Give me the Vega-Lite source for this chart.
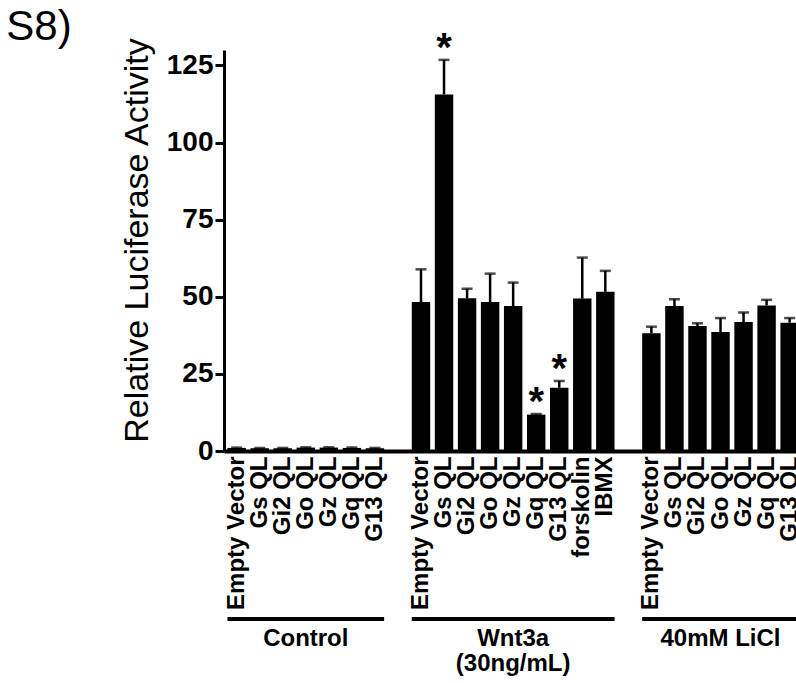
{
  "$schema": "https://vega.github.io/schema/vega-lite/v6.json",
  "padding": {"left": 6, "top": 5, "right": 0, "bottom": 0},
  "background": "white",
  "config": {
    "view": {"stroke": null},
    "font": "Liberation Sans",
    "text": {"font": "Liberation Sans", "color": "black"},
    "axis": {"labelFont": "Liberation Sans", "titleFont": "Liberation Sans", "labelColor": "black", "titleColor": "black"}
  },
  "title": {
    "text": "S8)",
    "anchor": "start",
    "frame": "bounds",
    "font": "Liberation Sans",
    "fontSize": 42,
    "fontWeight": "normal",
    "color": "black",
    "dx": -114,
    "offset": -20
  },
  "datasets": {
    "bars": [
      {"key": "C|Empty Vector", "group": "Control", "construct": "Empty Vector", "mean": 1.0, "upper": 1.1, "sig": ""},
      {"key": "C|Gs QL", "group": "Control", "construct": "Gs QL", "mean": 0.9, "upper": 1.0, "sig": ""},
      {"key": "C|Gi2 QL", "group": "Control", "construct": "Gi2 QL", "mean": 0.9, "upper": 1.0, "sig": ""},
      {"key": "C|Go QL", "group": "Control", "construct": "Go QL", "mean": 1.1, "upper": 1.2, "sig": ""},
      {"key": "C|Gz QL", "group": "Control", "construct": "Gz QL", "mean": 1.1, "upper": 1.2, "sig": ""},
      {"key": "C|Gq QL", "group": "Control", "construct": "Gq QL", "mean": 1.0, "upper": 1.1, "sig": ""},
      {"key": "C|G13 QL", "group": "Control", "construct": "G13 QL", "mean": 0.9, "upper": 1.0, "sig": ""},
      {"key": "W|Empty Vector", "group": "Wnt3a", "construct": "Empty Vector", "mean": 48.3, "upper": 58.9, "sig": ""},
      {"key": "W|Gs QL", "group": "Wnt3a", "construct": "Gs QL", "mean": 115.6, "upper": 126.8, "sig": "*"},
      {"key": "W|Gi2 QL", "group": "Wnt3a", "construct": "Gi2 QL", "mean": 49.5, "upper": 52.6, "sig": ""},
      {"key": "W|Go QL", "group": "Wnt3a", "construct": "Go QL", "mean": 48.3, "upper": 57.5, "sig": ""},
      {"key": "W|Gz QL", "group": "Wnt3a", "construct": "Gz QL", "mean": 47.0, "upper": 54.6, "sig": ""},
      {"key": "W|Gq QL", "group": "Wnt3a", "construct": "Gq QL", "mean": 11.8, "upper": 12.0, "sig": "*"},
      {"key": "W|G13 QL", "group": "Wnt3a", "construct": "G13 QL", "mean": 20.5, "upper": 22.7, "sig": "*"},
      {"key": "W|forskolin", "group": "Wnt3a", "construct": "forskolin", "mean": 49.4, "upper": 62.7, "sig": ""},
      {"key": "W|IBMX", "group": "Wnt3a", "construct": "IBMX", "mean": 51.6, "upper": 58.4, "sig": ""},
      {"key": "L|Empty Vector", "group": "40mM LiCl", "construct": "Empty Vector", "mean": 38.2, "upper": 40.3, "sig": ""},
      {"key": "L|Gs QL", "group": "40mM LiCl", "construct": "Gs QL", "mean": 47.0, "upper": 49.2, "sig": ""},
      {"key": "L|Gi2 QL", "group": "40mM LiCl", "construct": "Gi2 QL", "mean": 40.5, "upper": 41.4, "sig": ""},
      {"key": "L|Go QL", "group": "40mM LiCl", "construct": "Go QL", "mean": 38.6, "upper": 43.1, "sig": ""},
      {"key": "L|Gz QL", "group": "40mM LiCl", "construct": "Gz QL", "mean": 41.8, "upper": 44.9, "sig": ""},
      {"key": "L|Gq QL", "group": "40mM LiCl", "construct": "Gq QL", "mean": 47.2, "upper": 49.0, "sig": ""},
      {"key": "L|G13 QL", "group": "40mM LiCl", "construct": "G13 QL", "mean": 41.6, "upper": 43.1, "sig": ""}
    ],
    "groups": [
      {"group": "Control", "first": "C|Empty Vector", "last": "C|G13 QL", "mid": "C|Go QL", "label": "Control"},
      {"group": "Wnt3a", "first": "W|Empty Vector", "last": "W|IBMX", "mid": "W|Gz QL", "label": "Wnt3a\n(30ng/mL)"},
      {"group": "40mM LiCl", "first": "L|Empty Vector", "last": "L|G13 QL", "mid": "L|Go QL", "label": "40mM LiCl"}
    ]
  },
  "spacing": 7,
  "resolve": {"scale": {"x": "shared"}},
  "vconcat": [
    {
      "width": 576,
      "height": 401,
      "data": {"name": "bars"},
      "encoding": {
        "x": {
          "field": "key",
          "type": "nominal",
          "sort": null,
          "scale": {
            "domain": ["C|Empty Vector", "C|Gs QL", "C|Gi2 QL", "C|Go QL", "C|Gz QL", "C|Gq QL", "C|G13 QL", "gap1", "W|Empty Vector", "W|Gs QL", "W|Gi2 QL", "W|Go QL", "W|Gz QL", "W|Gq QL", "W|G13 QL", "W|forskolin", "W|IBMX", "gap2", "L|Empty Vector", "L|Gs QL", "L|Gi2 QL", "L|Go QL", "L|Gz QL", "L|Gq QL", "L|G13 QL"],
            "paddingInner": 0.2,
            "paddingOuter": 0.1,
            "align": 0.75
          },
          "axis": {
            "title": null,
            "labelExpr": "indexof(datum.value, '|') > 0 ? split(datum.value, '|')[1] : ''",
            "labelAngle": -90,
            "labelAlign": "right",
            "labelBaseline": "middle",
            "labelFontSize": 24,
            "labelFontWeight": "bold",
            "labelPadding": 5,
            "labelOverlap": false,
            "labelLimit": 0,
            "ticks": false,
            "tickSize": 0,
            "domainColor": "black",
            "domainWidth": 4,
            "grid": false
          }
        }
      },
      "layer": [
        {
          "mark": {"type": "bar", "color": "black"},
          "encoding": {
            "y": {
              "field": "mean",
              "type": "quantitative",
              "title": "Relative Luciferase Activity",
              "scale": {"domain": [0, 130], "nice": false},
              "axis": {
                "values": [0, 25, 50, 75, 100, 125],
                "grid": false,
                "domainColor": "black",
                "domainWidth": 3,
                "tickColor": "black",
                "tickWidth": 3,
                "tickSize": 9,
                "labelFontSize": 28,
                "labelFontWeight": "bold",
                "labelPadding": 2,
                "titleFontSize": 34,
                "titleFontWeight": "normal",
                "titlePadding": 12,
                "titleY": 190
              }
            }
          }
        },
        {
          "mark": {"type": "rule", "color": "black", "strokeWidth": 2.5},
          "encoding": {
            "y": {"field": "mean", "type": "quantitative", "title": "Relative Luciferase Activity"},
            "y2": {"field": "upper"}
          }
        },
        {
          "mark": {"type": "tick", "color": "black", "size": 11, "thickness": 2.5, "orient": "horizontal"},
          "encoding": {
            "y": {"field": "upper", "type": "quantitative", "title": "Relative Luciferase Activity"}
          }
        },
        {
          "transform": [{"filter": "datum.sig == '*'"}],
          "mark": {"type": "text", "fontSize": 40, "fontWeight": "bold", "baseline": "alphabetic", "align": "center", "dy": 1, "color": "black"},
          "encoding": {
            "y": {"field": "upper", "type": "quantitative", "title": "Relative Luciferase Activity"},
            "text": {"field": "sig"}
          }
        }
      ]
    },
    {
      "width": 576,
      "height": 60,
      "data": {"name": "groups"},
      "layer": [
        {
          "mark": {"type": "rule", "color": "black", "strokeWidth": 4},
          "encoding": {
            "x": {
              "field": "first",
              "type": "nominal",
              "bandPosition": 0,
              "axis": null,
              "scale": {
                "domain": ["C|Empty Vector", "C|Gs QL", "C|Gi2 QL", "C|Go QL", "C|Gz QL", "C|Gq QL", "C|G13 QL", "gap1", "W|Empty Vector", "W|Gs QL", "W|Gi2 QL", "W|Go QL", "W|Gz QL", "W|Gq QL", "W|G13 QL", "W|forskolin", "W|IBMX", "gap2", "L|Empty Vector", "L|Gs QL", "L|Gi2 QL", "L|Go QL", "L|Gz QL", "L|Gq QL", "L|G13 QL"],
                "paddingInner": 0.2,
                "paddingOuter": 0.1,
                "align": 0.75
              }
            },
            "x2": {"field": "last", "bandPosition": 1},
            "y": {"datum": 1, "type": "quantitative", "scale": {"domain": [0, 1]}, "axis": null}
          }
        },
        {
          "mark": {"type": "text", "fontSize": 24, "fontWeight": "bold", "baseline": "alphabetic", "align": "center", "dy": 27, "lineBreak": "\n", "lineHeight": 25, "color": "black"},
          "encoding": {
            "x": {"field": "mid", "type": "nominal", "axis": null},
            "y": {"datum": 1, "type": "quantitative", "axis": null},
            "text": {"field": "label"}
          }
        }
      ]
    }
  ]
}
